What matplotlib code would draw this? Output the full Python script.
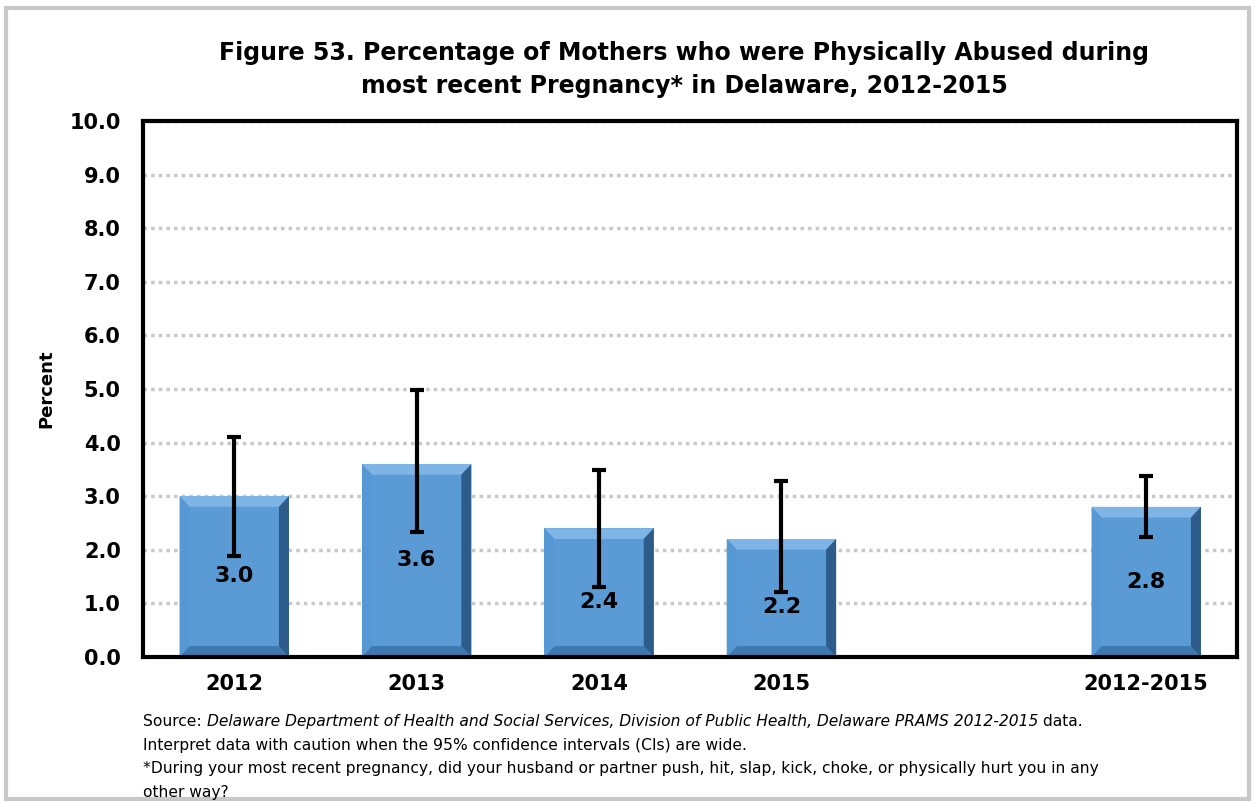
import matplotlib.pyplot as plt
from matplotlib.patches import Rectangle, Polygon
import numpy as np

# data
categories = ['2012', '2013', '2014', '2015', '2012-2015']
positions = [0, 1, 2, 3, 5]
values = [3.0, 3.6, 2.4, 2.2, 2.8]
ci_low = [1.88, 2.33, 1.31, 1.21, 2.24]
ci_high = [4.10, 4.98, 3.49, 3.28, 3.38]
yticks = np.arange(0, 10.5, 1.0)

title = ('Figure 53. Percentage of Mothers who were Physically Abused during\n'
         'most recent Pregnancy* in Delaware, 2012-2015')

plt.rcParams['font.family'] = ['DejaVu Sans']

fig = plt.figure(figsize=(12.55, 8.02), dpi=100)
fig.patches.append(Rectangle((0.005, 0.004), 0.99, 0.986, transform=fig.transFigure,
                             fill=False, edgecolor='#C8C8C8', linewidth=3))
ax = fig.add_axes([0.114, 0.181, 0.872, 0.668])

bar_w = 0.6
face = '#5B9BD5'
ax.bar(positions, values, width=bar_w, color=face, edgecolor='none', zorder=2)

# bevel look on each bar
bx = 0.055
by = 0.2
for x, v in zip(positions, values):
    l, r = x - bar_w / 2, x + bar_w / 2
    ax.add_patch(Polygon([(l, v), (r, v), (r - bx, v - by), (l + bx, v - by)],
                         color='#7FB4E6', zorder=2.1, lw=0))
    ax.add_patch(Polygon([(l, 0), (l + bx, by), (r - bx, by), (r, 0)],
                         color='#3E78B0', zorder=2.1, lw=0))
    ax.add_patch(Polygon([(r, 0), (r, v), (r - bx, v - by), (r - bx, by)],
                         color='#2E5C8A', zorder=2.1, lw=0))
    ax.add_patch(Polygon([(l, 0), (l, v), (l + bx, v - by), (l + bx, by)],
                         color='#5598D4', zorder=2.1, lw=0))

err = [np.array(values) - np.array(ci_low), np.array(ci_high) - np.array(values)]
ax.errorbar(positions, values, yerr=err, fmt='none', ecolor='black',
            elinewidth=3, capsize=5, capthick=3, zorder=3)

# value labels sit mid-bar, pushed below the lower CI cap when needed
for x, v, lo in zip(positions, values, ci_low):
    ax.text(x, min(v / 2, lo - 0.28), '%.1f' % v, ha='center', va='center',
            fontsize=16, fontweight='bold', zorder=4)

ax.set_xlim(-0.5, 5.5)
ax.set_ylim(0, 10)
ax.set_yticks(yticks)
ax.set_yticklabels(['%.1f' % t for t in yticks], fontsize=15, fontweight='bold')
ax.set_xticks(positions)
ax.set_xticklabels(categories, fontsize=15, fontweight='bold')
ax.tick_params(length=0)
ax.tick_params(axis='y', pad=16)
ax.tick_params(axis='x', pad=12)
ax.yaxis.grid(True, linestyle=(0, (1, 1.2)), color='#C8C8C8', linewidth=2.5)
ax.set_axisbelow(True)
for s in ax.spines.values():
    s.set_linewidth(3)
ax.set_ylabel('Percent', fontsize=13, fontweight='bold', labelpad=10)

fig.text(0.545, 0.913, title, ha='center', va='center', fontsize=17,
         fontweight='bold', linespacing=1.45)

# footnotes
fs = 11.2
y0 = 0.0998
dy = 0.0293
fig.canvas.draw()
r = fig.canvas.get_renderer()
t1 = fig.text(0.114, y0, 'Source: ', fontsize=fs, va='center')
bb = t1.get_window_extent(r).transformed(fig.transFigure.inverted())
t2 = fig.text(bb.x1, y0, 'Delaware Department of Health and Social Services, Division of Public Health, '
              'Delaware PRAMS 2012-2015', fontsize=fs, style='italic', va='center')
bb = t2.get_window_extent(r).transformed(fig.transFigure.inverted())
fig.text(bb.x1, y0, ' data.', fontsize=fs, va='center')
fig.text(0.114, y0 - dy, 'Interpret data with caution when the 95% confidence intervals (CIs) are wide.',
         fontsize=fs, va='center')
fig.text(0.114, y0 - 2 * dy, '*During your most recent pregnancy, did your husband or partner push, hit, slap, '
         'kick, choke, or physically hurt you in any', fontsize=fs, va='center')
fig.text(0.114, y0 - 3 * dy, 'other way?', fontsize=fs, va='center')

fig.savefig('out.png', dpi=100)
